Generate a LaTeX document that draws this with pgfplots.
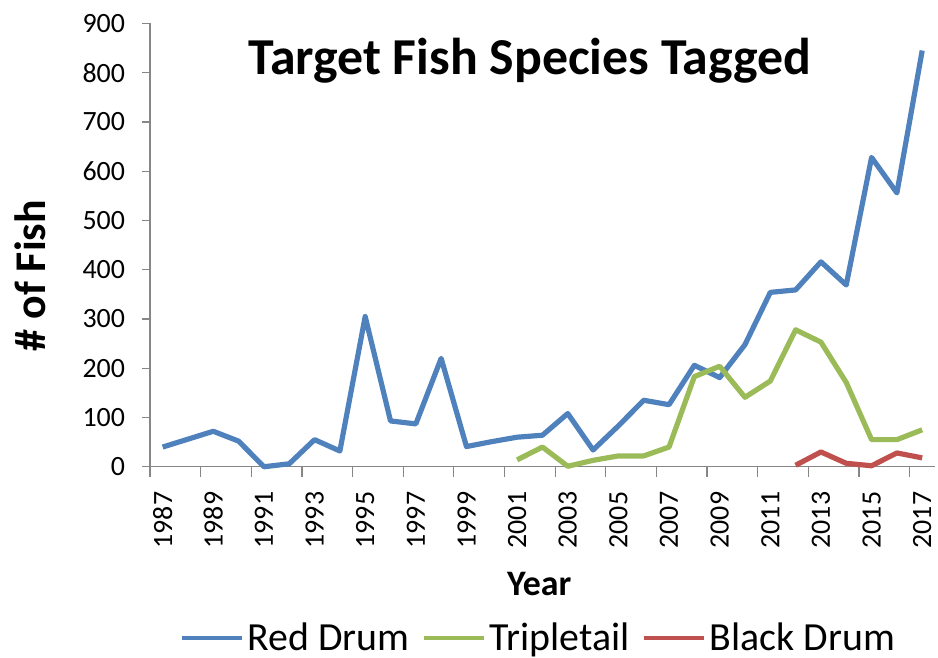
\documentclass[border=0pt]{standalone}
\usepackage{pgfplots}
\pgfplotsset{compat=1.18}
\usepackage{fontspec}
\setmainfont{Carlito}
\definecolor{reddrum}{HTML}{4F81BD}
\definecolor{tripletail}{HTML}{9BBB59}
\definecolor{blackdrum}{HTML}{C0504D}
\definecolor{axisgray}{HTML}{868686}
\begin{document}
\begin{tikzpicture}
\begin{axis}[
  scale only axis, width=393.75pt, height=222.4pt,
  xmin=1986.5, xmax=2017.5, ymin=0, ymax=900,
  axis x line=bottom, axis y line=left,
  axis line style={-, draw=axisgray, line width=0.6pt},
  tick align=outside,
  xtick={1987,1989,...,2017},
  minor xtick={1986.5,1988.5,...,2016.5},
  ytick={0,100,...,900},
  major tick length=4pt, minor tick length=5pt,
  tick style={draw=axisgray, line width=0.6pt},
  every major x tick/.append style={draw=none},
  /pgf/number format/assume math mode=true,
  /pgf/number format/1000 sep={},
  ticklabel style={font=\fontsize{14}{16}\selectfont, text=black},
  xticklabel style={rotate=90, anchor=east},
  xticklabel shift=5pt,
  yticklabel style={anchor=east, xshift=-5pt},
  xlabel={\textbf{Year}},
  ylabel={\textbf{\# of Fish}},
  xlabel style={font=\fontsize{18}{20}\selectfont, at={(axis description cs:0.496,-0.265)}, anchor=center},
  ylabel style={font=\fontsize{22}{24}\selectfont, at={(axis description cs:-0.153,0.431)}, anchor=center},
  clip=false,
  legend columns=3,
  legend style={at={(axis description cs:0.496,-0.386)}, anchor=center, draw=none,
    inner sep=0pt, font=\fontsize{20}{22}\selectfont,
    /tikz/every even column/.append style={column sep=4pt}},
  legend image code/.code={\draw[#1, line width=2.2pt] (0pt,0pt) -- (30pt,0pt);},
  every axis plot/.append style={line width=2.6pt, line join=round},
]
\addplot[reddrum] coordinates {
  (1987,40)(1988,56)(1989,72)(1990,52)(1991,0)(1992,6)(1993,55)(1994,32)
  (1995,305)(1996,93)(1997,87)(1998,220)(1999,41)(2000,51)(2001,60)(2002,64)
  (2003,108)(2004,34)(2005,83)(2006,135)(2007,126)(2008,206)(2009,181)(2010,248)
  (2011,354)(2012,359)(2013,416)(2014,369)(2015,628)(2016,556)(2017,845)};
\addlegendentry{Red Drum}
\addplot[tripletail] coordinates {
  (2001,14)(2002,40)(2003,1)(2004,13)(2005,22)(2006,22)(2007,40)(2008,183)
  (2009,204)(2010,141)(2011,174)(2012,278)(2013,253)(2014,171)(2015,55)
  (2016,55)(2017,75)};
\addlegendentry{Tripletail}
\addplot[blackdrum] coordinates {
  (2012,3)(2013,30)(2014,7)(2015,2)(2016,28)(2017,18)};
\addlegendentry{Black Drum}
\node[font=\bfseries\fontsize{26}{30}\selectfont] at (rel axis cs:0.484,0.915) {Target Fish Species Tagged};
\coordinate (bbA) at (rel axis cs:-0.1911,-0.431);
\coordinate (bbB) at (rel axis cs:1.004,1.0529);
\end{axis}
\pgfresetboundingbox
\path (bbA) rectangle (bbB);
\end{tikzpicture}
\end{document}
